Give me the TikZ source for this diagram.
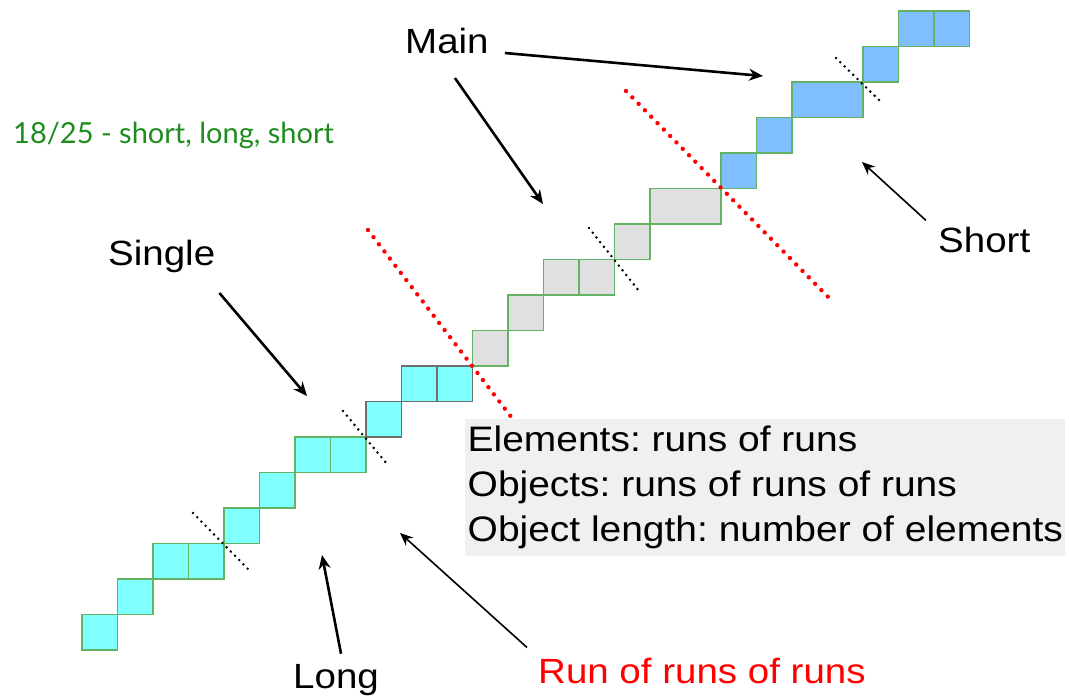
\documentclass[tikz,border=0pt]{standalone}
\usepackage{fontspec}
\setmainfont{Liberation Sans}[FakeStretch=1.1]
\newfontfamily\greenfont{Lato}
\usetikzlibrary{arrows.meta}
\frenchspacing
\definecolor{cyanF}{RGB}{128,255,255}
\definecolor{grayF}{RGB}{224,224,224}
\definecolor{blueF}{RGB}{128,191,255}
\definecolor{edgeG}{RGB}{100,178,100}
\definecolor{edgeD}{RGB}{110,110,110}
\definecolor{boxF}{RGB}{240,240,240}
\definecolor{txtG}{RGB}{30,140,30}
\tikzset{
  lbl/.style={anchor=base west, inner sep=0pt, font=\frenchspacing\fontsize{35}{42}\selectfont},
  infobox/.style={fill=boxF, align=left, inner xsep=2.5pt, inner ysep=7pt, font=\frenchspacing\fontsize{35.4}{45}\selectfont},
  cellC/.style={fill=cyanF, draw=edgeG, line width=1.4pt},
  cellCd/.style={fill=cyanF, draw=edgeD, line width=1.4pt},
  cellG/.style={fill=grayF, draw=edgeG, line width=1.4pt},
  cellB/.style={fill=blueF, draw=edgeG, line width=1.4pt},
  sepblack/.style={black, line width=2.8pt, line cap=round, dash pattern=on 0pt off 6pt},
  sepred/.style={red, line width=4.4pt, line cap=round, dash pattern=on 0pt off 9pt},
  thickarr/.style={black, line width=2.6pt, -{Stealth[length=14pt,width=12pt]}},
  thinarr/.style={black, line width=1.6pt, -{Stealth[length=13pt,width=11pt]}}
}
\begin{document}
\begin{tikzpicture}[x=1pt,y=-1pt]
\useasboundingbox (0,0) rectangle (1069,697);
% staircase
\begin{scope}[shift={(82,650)}, x=35.5pt, y=35.5pt]
  \foreach \c/\r/\w in {0/0/1,1/1/1,2/2/1,3/2/1,4/3/1,5/4/1,6/5/1,7/5/1}
    \filldraw[cellC] (\c,\r) rectangle ++(\w,1);
  \foreach \c/\r/\w in {8/6/1,9/7/1,10/7/1}
    \filldraw[cellCd] (\c,\r) rectangle ++(\w,1);
  \foreach \c/\r/\w in {11/8/1,12/9/1,13/10/1,14/10/1,15/11/1,16/12/2}
    \filldraw[cellG] (\c,\r) rectangle ++(\w,1);
  \foreach \c/\r/\w in {18/13/1,19/14/1,20/15/2,22/16/1,23/17/1,24/17/1}
    \filldraw[cellB] (\c,\r) rectangle ++(\w,1);
\end{scope}
% separators
\coordinate (d1a) at (193,513); \coordinate (d1b) at (248,569);
\coordinate (d2a) at (343,411); \coordinate (d2b) at (387,464);
\coordinate (d3a) at (589,228); \coordinate (d3b) at (639,291);
\coordinate (d4a) at (836,58);  \coordinate (d4b) at (881,102);
\draw[sepblack] (d1a) -- (d1b);
\draw[sepblack] (d2a) -- (d2b);
\draw[sepblack] (d3a) -- (d3b);
\draw[sepblack] (d4a) -- (d4b);
\coordinate (r1a) at (368,230); \coordinate (r1b) at (512,418);
\coordinate (r2a) at (626,91);  \coordinate (r2b) at (834,303);
\draw[sepred] (r1a) -- (r1b);
\draw[sepred] (r2a) -- (r2b);
% labels
\node[lbl] (main) at (405,53) {Main};
\node[lbl] (single) at (108,265) {Single};
\node[lbl] (long) at (293,688) {Long};
\node[lbl] (short) at (938,252) {Short};
\node[lbl, text=red] (run) at (538,683) {Run of runs of runs};
\node[anchor=base west, inner sep=0pt, text=txtG, font=\greenfont\frenchspacing\fontsize{29}{34}\selectfont] (ratio) at (13,143) {18/25 - short, long, short};
\node[infobox, anchor=north west] (info) at (465,419) {Elements: runs of runs\\Objects: runs of runs of runs\\Object length: number of elements};
% arrow targets
\coordinate (tMainA) at (763,76);
\coordinate (tMainB) at (543,204);
\coordinate (tSingle) at (307,396);
\coordinate (tLong) at (322,555);
\coordinate (tRun) at (400,533);
\coordinate (tShort) at (862,162);
% arrows
\draw[thickarr] ([xshift=16pt]main.base east) -- (tMainA);
\draw[thickarr] ([xshift=8pt,yshift=-25pt]main.base) -- (tMainB);
\draw[thickarr] ([xshift=4pt,yshift=-28pt]single.base east) -- (tSingle);
\draw[thickarr] ([xshift=5pt,yshift=10pt]long.north) -- (tLong);
\draw[thinarr] ([xshift=-11pt,yshift=10pt]run.north west) -- (tRun);
\draw[thinarr] ([xshift=-12pt,yshift=6pt]short.north west) -- (tShort);
\end{tikzpicture}
\end{document}
